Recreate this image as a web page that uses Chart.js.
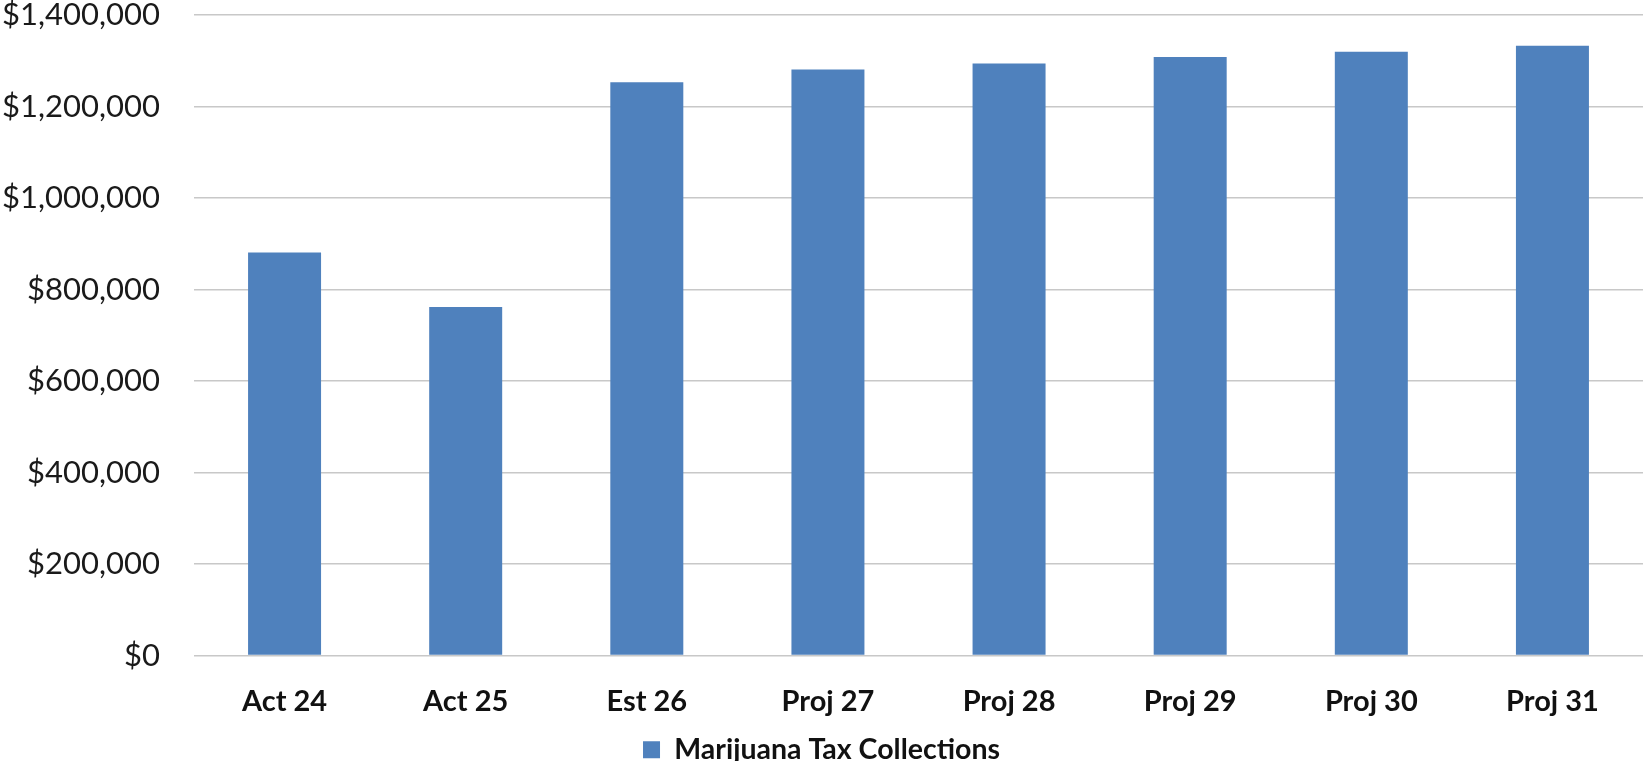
<!DOCTYPE html>
<html>
<head>
<meta charset="utf-8">
<script src="https://cdn.jsdelivr.net/npm/chart.js@4"></script>
<style>
  html, body { margin: 0; padding: 0; background: #ffffff; }
  #wrap { width: 1643px; height: 761px; position: relative; }
</style>
</head>
<body>
<div id="wrap"><canvas id="c"></canvas></div>
<script>
const categories = ['Act 24', 'Act 25', 'Est 26', 'Proj 27', 'Proj 28', 'Proj 29', 'Proj 30', 'Proj 31'];
const seriesName = 'Marijuana Tax Collections';
const collections = [881000, 762000, 1253000, 1281000, 1294000, 1308000, 1320000, 1333000];
const yTickMin = 0;
const yTickMax = 1400000;
const yTickStep = 200000;

const fmt = v => '$' + Number(v).toLocaleString('en-US');

new Chart(document.getElementById('c'), {
  type: 'bar',
  data: {
    labels: categories,
    datasets: [{
      label: seriesName,
      data: collections,
      backgroundColor: '#4F81BD',
      borderWidth: 0,
      categoryPercentage: 1.0,
      barPercentage: 0.403
    }]
  },
  options: {
    responsive: true,
    maintainAspectRatio: false,
    animation: false,
    layout: { padding: { top: 0, right: 0, left: 0, bottom: -13 } },
    plugins: {
      tooltip: { enabled: false },
      legend: {
        position: 'bottom',
        labels: {
          boxWidth: 17,
          boxHeight: 17,
          padding: 0,
          color: '#111111',
          font: { family: 'Lato', size: 28.5, weight: 'bold' }
        }
      }
    },
    scales: {
      x: {
        grid: { display: false, drawTicks: false },
        border: { display: false },
        afterFit: s => { s.height = 80; },
        ticks: {
          color: '#111111',
          padding: 28.6,
          font: { family: 'Lato', size: 29, weight: 'bold', lineHeight: 1.2 }
        }
      },
      y: {
        min: yTickMin,
        max: yTickMax,
        afterFit: s => { s.width = 194; },
        grid: { color: '#c8c8c8', lineWidth: 1.5, drawTicks: true, tickLength: 34, tickColor: 'rgba(0,0,0,0)' },
        border: { display: false },
        ticks: {
          stepSize: yTickStep,
          padding: 0,
          color: '#1a1a1a',
          font: { family: 'Lato', size: 31, lineHeight: 0.97 },
          callback: v => fmt(v)
        }
      }
    }
  }
});
</script>
</body>
</html>
